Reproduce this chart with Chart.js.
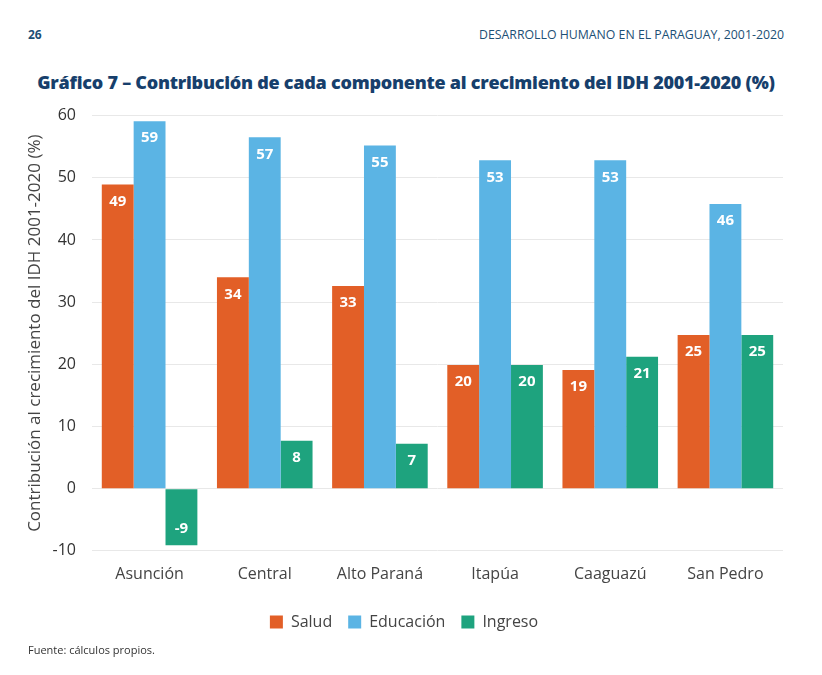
<!DOCTYPE html>
<html>
<head>
<meta charset="utf-8">
<script src="https://cdn.jsdelivr.net/npm/chart.js@4.4.0/dist/chart.umd.min.js"></script>
<style>
  body { margin: 0; background: #fff; font-family: "Open Sans", sans-serif; }
  #page { position: relative; width: 822px; height: 675px; overflow: hidden; }
  .pnum { position: absolute; left: 28px; top: 26px; font-size: 12px; font-weight: 700; color: #1c4f75; }
  .running { position: absolute; right: 38px; top: 26px; font-size: 12.3px; color: #1c4f75; }
  h1 { position: absolute; left: 0; width: 812px; top: 70px; margin: 0; text-align: center;
       font-size: 18px; font-weight: 800; color: #173f6c; letter-spacing: -0.25px; }
  .src { position: absolute; left: 28px; top: 642px; font-size: 11px; color: #333; }
  #wrap { position: absolute; left: 0; top: 90px; width: 822px; height: 554px; }
</style>
</head>
<body>
<div id="page">
  <div class="pnum">26</div>
  <div class="running">DESARROLLO HUMANO EN EL PARAGUAY, 2001-2020</div>
  <h1>Gráfico 7 – Contribución de cada componente al crecimiento del IDH 2001-2020 (%)</h1>
  <div id="wrap"><canvas id="chart"></canvas></div>
  <div class="src">Fuente: cálculos propios.</div>
</div>
<script>
const departamentos = ['Asunción', 'Central', 'Alto Paraná', 'Itapúa', 'Caaguazú', 'San Pedro'];
const salud = [48.9, 34.0, 32.6, 19.9, 19.1, 24.7];
const educacion = [59.1, 56.5, 55.2, 52.8, 52.8, 45.8];
const ingreso = [-9.1, 7.7, 7.2, 19.9, 21.2, 24.7];
const yTicks = [-10, 0, 10, 20, 30, 40, 50, 60];

const labelPlugin = {
    id: 'barLabels',
    afterDatasetsDraw(chart) {
        const ctx = chart.ctx;
        ctx.save();
        ctx.fillStyle = '#ffffff';
        ctx.font = 'bold 15px "Open Sans"';
        ctx.textAlign = 'center';
        ctx.textBaseline = 'middle';
        chart.data.datasets.forEach((ds, i) => {
            const meta = chart.getDatasetMeta(i);
            meta.data.forEach((bar, j) => {
                const v = ds.data[j];
                const y = v >= 0 ? bar.y + 17 : bar.y - 16;
                ctx.fillText(String(Math.round(v)), bar.x, y);
            });
        });
        ctx.restore();
    }
};

new Chart(document.getElementById('chart').getContext('2d'), {
    type: 'bar',
    data: {
        labels: departamentos,
        datasets: [
            { label: 'Salud', data: salud, backgroundColor: '#e25f27' },
            { label: 'Educación', data: educacion, backgroundColor: '#5bb4e4' },
            { label: 'Ingreso', data: ingreso, backgroundColor: '#1ea37e' }
        ]
    },
    options: {
        responsive: true,
        maintainAspectRatio: false,
        animation: false,
        layout: { padding: { left: 25, right: 39, top: 6, bottom: 4 } },
        datasets: { bar: { categoryPercentage: 0.83, barPercentage: 1.0 } },
        plugins: {
            legend: {
                position: 'bottom',
                labels: {
                    boxWidth: 13,
                    boxHeight: 13,
                    padding: 16,
                    color: '#444',
                    font: { family: 'Open Sans', size: 16 }
                }
            },
            tooltip: { enabled: false }
        },
        scales: {
            x: {
                grid: { display: false, drawTicks: false },
                border: { display: false },
                ticks: { color: '#444', padding: 14, font: { family: 'Open Sans', size: 16 } }
            },
            y: {
                min: -10,
                max: 60,
                afterBuildTicks: s => { s.ticks = yTicks.map(v => ({ value: v })); },
                afterFit: s => { s.width = 67; },
                grid: { color: '#e8e8e8', drawTicks: false },
                border: { display: false },
                ticks: { color: '#333', padding: 16, font: { family: 'Open Sans', size: 16 } },
                title: {
                    display: true,
                    text: 'Contribución al crecimiento del IDH 2001-2020 (%)',
                    color: '#444',
                    font: { family: 'Open Sans', size: 17 },
                    padding: 0
                }
            }
        }
    },
    plugins: [labelPlugin]
});
</script>
</body>
</html>
